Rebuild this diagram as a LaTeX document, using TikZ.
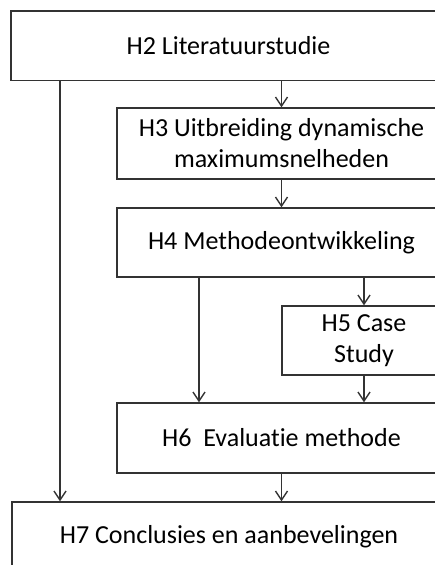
\documentclass[tikz,border=0pt]{standalone}
\usepackage{fontspec}
\setmainfont{Carlito}[Ligatures={NoCommon}]
\usetikzlibrary{positioning, arrows.meta}

\tikzset{
  hbox/.style={rectangle, draw=black!80, line width=1.4pt, align=center,
    font=\fontsize{26}{31}\selectfont, inner sep=0pt},
  pijl/.style={draw=black!80, line width=1.4pt,
    -{Straight Barb[length=9pt, width=12pt, line width=1.4pt]}}
}

\begin{document}
\begin{tikzpicture}[x=1pt, y=-1pt]
  \fill[white] (0,0) rectangle (435,565);
  \clip (0,0) rectangle (435,565);

  \node[hbox, minimum width=435pt, minimum height=69.5pt] (h2) at (228.5,45.75) {H2 Literatuurstudie};
  \node[hbox, minimum width=329pt, minimum height=71pt] (h3) at (281.5,143.5) {H3 Uitbreiding dynamische\\maximumsnelheden};
  \node[hbox, minimum width=329pt, minimum height=69pt] (h4) at (281.5,242.5) {H4 Methodeontwikkeling};
  \node[hbox, minimum width=164pt, minimum height=69pt] (h5) at (364,340.5) {H5 Case\\Study};
  \node[hbox, minimum width=329pt, minimum height=70pt] (h6) at (281.5,438) {H6\ \ Evaluatie methode};
  \node[hbox, minimum width=434pt, minimum height=70pt] (h7) at (229,537) {H7 Conclusies en aanbevelingen};

  \draw[pijl] (h3.north |- h2.south) -- (h3.north);
  \draw[pijl] (h3.south) -- (h4.north);
  \draw[pijl] (h4.south -| h5.north) -- (h5.north);
  \draw[pijl] (h5.south) -- (h5.south |- h6.north);
  \draw[pijl] (h4.south -| 199,0) -- (h6.north -| 199,0);
  \draw[pijl] (h6.south) -- (h6.south |- h7.north);
  \draw[pijl] (h2.south -| 60,0) -- (h7.north -| 60,0);
\end{tikzpicture}
\end{document}
